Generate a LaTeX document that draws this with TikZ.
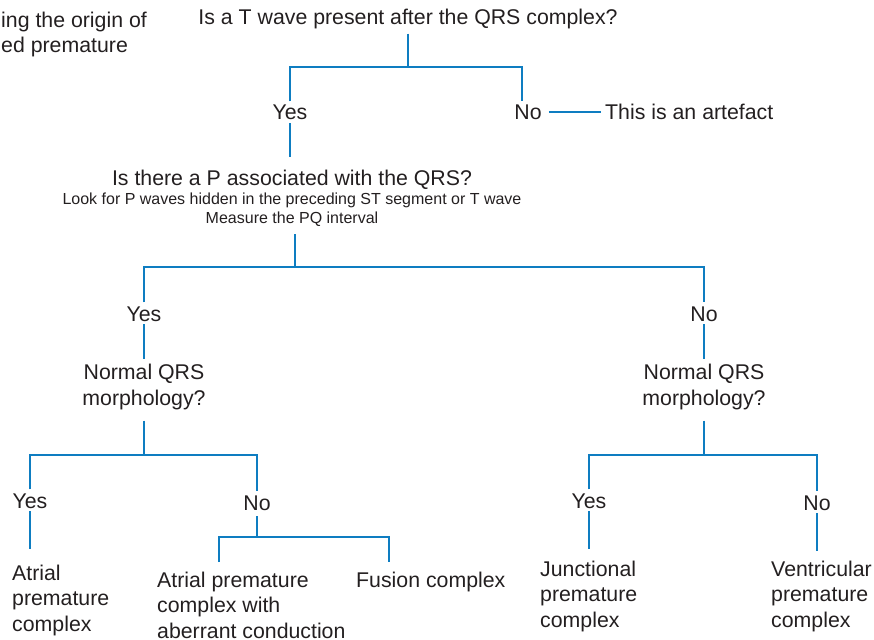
\documentclass[tikz,border=0pt]{standalone}
\usepackage{fontspec}
\setmainfont{Liberation Sans}
\usetikzlibrary{positioning}

\definecolor{treeblue}{RGB}{14,125,193}
\definecolor{ink}{RGB}{35,31,32}

\newcommand{\bigtxt}{\fontsize{21.3}{25.5}\selectfont}
\newcommand{\smalltxt}{\fontsize{16}{19}\selectfont}

\begin{document}
\begin{tikzpicture}
	[x=1pt, y=-1pt,
	 txt/.style = {inner sep=0pt, text=ink, font=\bigtxt, anchor=base},
	 ans/.style = {txt, text height=15.5pt, text depth=0pt, inner ysep=3pt},
	 qst/.style = {txt, align=center},
	 leaf/.style = {txt, align=left, anchor=base west},
	 link/.style = {draw=treeblue, line width=2pt}]
	\useasboundingbox (0,0) rectangle (874,639);
	% title, cut off at the left edge (base = last line)
	\node[leaf] (title) at (1,53) {ing the origin of\\ed premature};
	% T wave?
	\node[qst] (q1) at (408,25) {Is a T wave present after the QRS complex?};
	\coordinate (j1) at (408,67);
	\node[ans] (yes1) at (290,120) {Yes};
	\node[ans] (no1) at (528,120) {No};
	\node[ans, anchor=base west] (art) at (605,120) {This is an artefact};
	\draw[link, shorten <=4pt] (q1) -- (j1);
	\draw[link] (yes1) |- (j1) -| ([xshift=-6pt]no1.north);
	\draw[link, shorten <=7pt, shorten >=4pt] (no1) -- (art);
	% P wave?
	\node[qst, font=\smalltxt] (q2) at (292,223) {{\bigtxt Is there a P associated with the QRS?}\\Look for P waves hidden in the preceding ST segment or T wave\\Measure the PQ interval};
	\coordinate (j2) at (295,267);
	\draw[link, shorten >=12pt] (yes1) -- (yes1 |- q2.north);
	\draw[link, shorten <=8pt] (q2.south -| j2) -- (j2);
	\node[ans] (yes2) at (144,321) {Yes};
	\node[ans] (no2) at (704,321) {No};
	\draw[link] (yes2) |- (j2) -| (no2);
	% QRS morphology?
	\node[qst] (nq1) at (144,405) {Normal QRS\\morphology?};
	\node[qst] (nq2) at (704,405) {Normal QRS\\morphology?};
	\draw[link, shorten >=5pt] (yes2) -- (nq1);
	\draw[link, shorten >=5pt] (no2) -- (nq2);
	\coordinate (j3) at (144,455);
	\coordinate (j4) at (704,455);
	\draw[link, shorten <=11pt] (nq1) -- (j3);
	\draw[link, shorten <=11pt] (nq2) -- (j4);
	% left branch
	\node[ans] (yes3) at (30,508) {Yes};
	\node[ans] (no3) at (257,510) {No};
	\draw[link] (yes3) |- (j3) -| (no3);
	\coordinate (j5) at (257,537);
	\coordinate (e3) at (30,549);
	\coordinate (j5l) at (219,562);
	\coordinate (j5r) at (389,562);
	\draw[link] (yes3) -- (e3);
	\draw[link, shorten <=3pt] (no3) -- (j5);
	\draw[link] (j5l) |- (j5) -| (j5r);
	\node[leaf] (apc) at (12,631) {Atrial\\premature\\complex};
	\node[leaf] (abc) at (157,638) {Atrial premature\\complex with\\aberrant conduction};
	\node[leaf] (fus) at (356,587) {Fusion complex};
	% right branch
	\node[ans] (yes4) at (589,508) {Yes};
	\node[ans] (no4) at (817,510) {No};
	\draw[link] (yes4) |- (j4) -| (no4);
	\coordinate (e4) at (589,549);
	\coordinate (e5) at (817,551);
	\draw[link] (yes4) -- (e4);
	\draw[link] (no4) -- (e5);
	\node[leaf] (jpc) at (540,627) {Junctional\\premature\\complex};
	\node[leaf] (vpc) at (771,627) {Ventricular\\premature\\complex};
\end{tikzpicture}
\end{document}
